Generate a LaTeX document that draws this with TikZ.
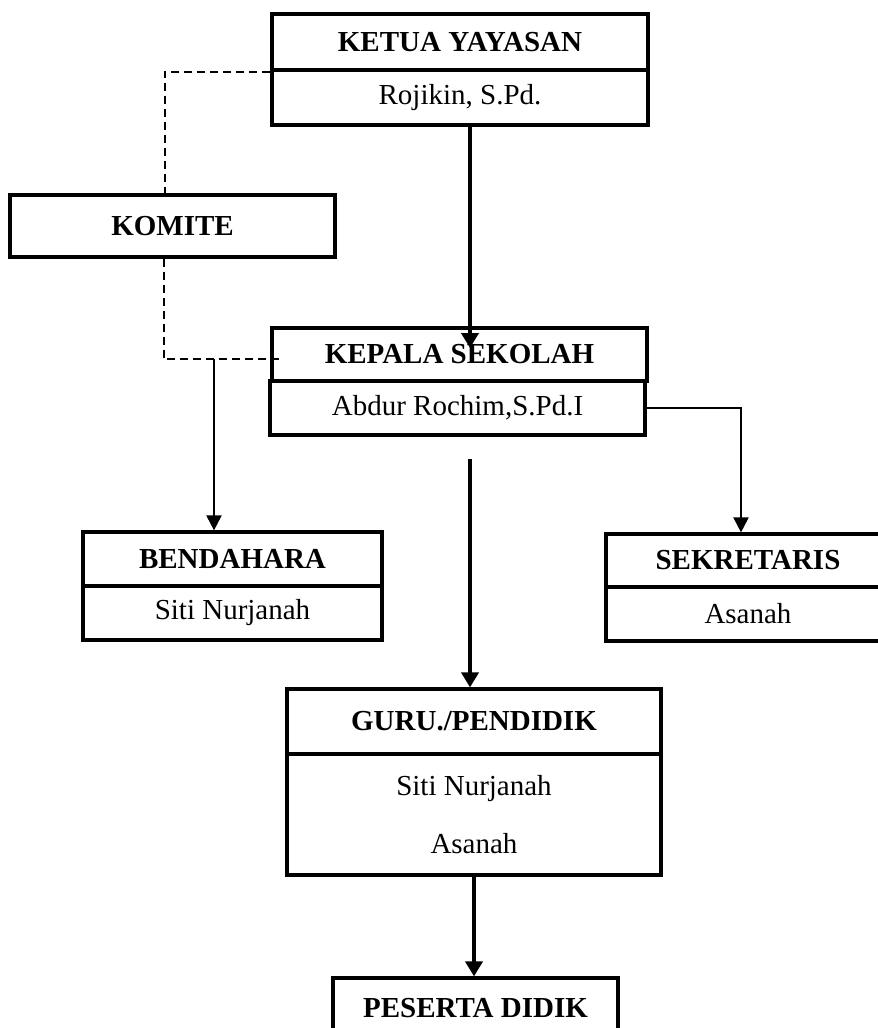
\documentclass[tikz,border=0pt]{standalone}
\usepackage{fontspec}
\setmainfont{Liberation Serif}
\usetikzlibrary{arrows.meta,positioning,calc}

\begin{document}
\begin{tikzpicture}[
  x=0.5pt, y=-0.5pt,
  font=\fontsize{14.5}{29}\selectfont,
  cellbox/.style={rectangle, draw, line width=1.6pt, inner sep=0pt, align=center},
  headbox/.style={cellbox, font=\fontsize{14.5}{29}\selectfont\bfseries},
  namebox/.style={cellbox},
  thinline/.style={line width=1pt},
  thinarrow/.style={thinline, -{Triangle[length=7.5pt,width=7.5pt]}},
  thickarrow/.style={line width=2pt, -{Triangle[length=7.5pt,width=8.5pt]}},
  dashline/.style={line width=1pt, dash pattern=on 4pt off 2.5pt}
]
\useasboundingbox (0,0) rectangle (878,1028);
\clip (0,0) rectangle (878,1028);
% ketua yayasan
\node[headbox, minimum width=188pt, minimum height=28pt]   (ketHead) at (460,42)   {KETUA YAYASAN};
\node[namebox, minimum width=188pt, minimum height=27.5pt] (ketName) at (460,97.5) {Rojikin, S.Pd.};
% komite
\node[headbox, minimum width=162.5pt, minimum height=31pt] (komite) at (172.5,226) {KOMITE};
% kepala sekolah
\node[headbox, minimum width=187.5pt, minimum height=26.5pt] (kepHead) at (459.5,354.5) {KEPALA SEKOLAH};
\node[namebox, minimum width=187.5pt, minimum height=27pt]   (kepName) at (457.5,408)   {Abdur Rochim,S.Pd.I};
% bendahara
\node[headbox, minimum width=149.5pt, minimum height=27pt] (bendHead) at (232.5,559) {BENDAHARA};
\node[namebox, minimum width=149.5pt, minimum height=27pt] (bendName) at (232.5,613) {Siti Nurjanah};
% sekretaris
\node[headbox, minimum width=142pt, minimum height=26.5pt] (sekHead) at (748,560.5) {SEKRETARIS};
\node[namebox, minimum width=142pt, minimum height=27pt]   (sekName) at (748,614)   {Asanah};
% guru
\node[headbox, minimum width=187pt, minimum height=32.5pt] (guruHead) at (474,721.5) {GURU./PENDIDIK};
\node[namebox, minimum width=187pt, minimum height=60.5pt] (guruName) at (474,814.5) {Siti Nurjanah\\Asanah};
% peserta didik
\node[headbox, minimum width=142.5pt, minimum height=30pt] (peserta) at (475.5,1008) {PESERTA DIDIK};

% free ends
\coordinate (kepTip)    at (470,348);
\coordinate (bendJoin)  at (214,359);
\coordinate (guruStart) at (470,459);

% connectors
\draw[dashline] (ketHead.south west) -| ([xshift=-4pt]komite.north);
\draw[dashline] ([xshift=-4.5pt]komite.south) |- ([xshift=4.5pt,yshift=-2.25pt]kepHead.west);
\draw[thinarrow] (bendJoin) -- (bendJoin |- bendHead.north);
\draw[thinarrow] (kepName.east) -| ([xshift=-3.5pt]sekHead.north);
\draw[thickarrow] (kepTip |- ketName.south) -- (kepTip);
\draw[thickarrow] (guruStart) -- (guruStart |- guruHead.north);
\draw[thickarrow] (guruName.south) -- (guruName.south |- peserta.north);
\end{tikzpicture}
\end{document}
